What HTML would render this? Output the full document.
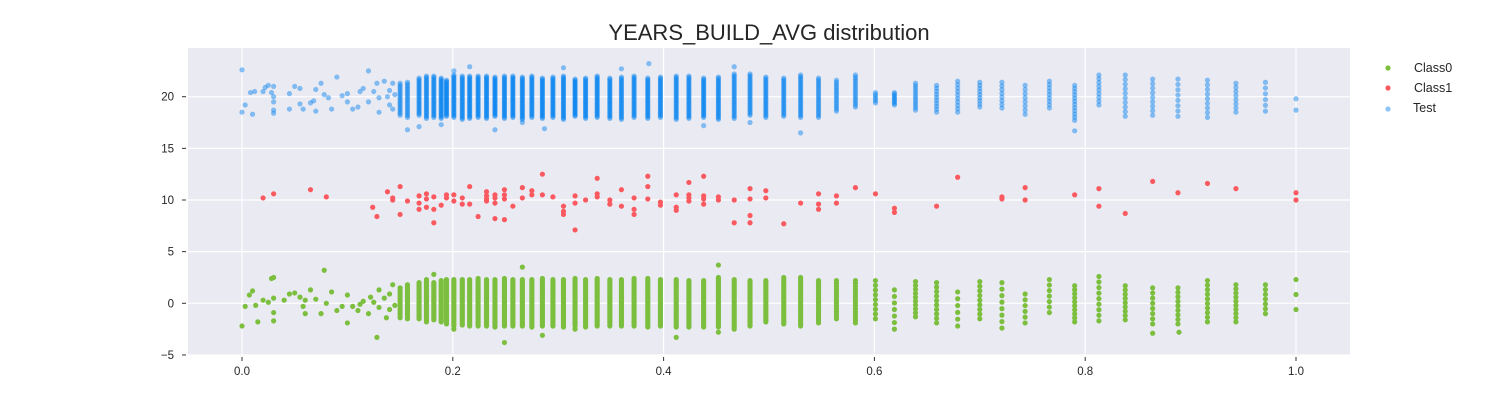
<!DOCTYPE html>
<html><head><meta charset="utf-8"><style>
body{margin:0;background:#fff;}
svg text{font-family:"Liberation Sans",sans-serif;fill:#262626;}
</style></head><body>
<svg id="chart" width="1500" height="400" xmlns="http://www.w3.org/2000/svg">
<rect x="188" y="48" width="1162" height="307" fill="#eaeaf2"/>
<g id="grid"></g><g id="ticks"></g><g id="points"></g>
<text x="769" y="40" font-size="22" text-anchor="middle">YEARS_BUILD_AVG distribution</text>
<g>
<circle cx="1388" cy="68" r="2.6" fill="#7cbf3f"/>
<text x="1414" y="72" font-size="12.5">Class0</text>
<circle cx="1388" cy="88" r="2.6" fill="#fa5a5f"/>
<text x="1414" y="92" font-size="12.5">Class1</text>
<circle cx="1388" cy="109" r="2.6" fill="#0080f0" fill-opacity="0.45"/>
<text x="1413" y="112" font-size="12.5">Test</text>
</g>
</svg>
<script>
const xTicks=[0,0.2,0.4,0.6,0.8,1.0];
const xTickLabels=["0.0","0.2","0.4","0.6","0.8","1.0"];
const yTicks=[-5,0,5,10,15,20];
const yTickLabels=["\u22125","0","5","10","15","20"];
const colX=[0.150,0.157,0.168,0.175,0.182,0.189,0.194,0.201,0.209,0.216,0.224,0.232,0.240,0.249,0.257,0.266,0.275,0.285,0.295,0.305,0.316,0.326,0.337,0.349,0.360,0.372,0.385,0.397,0.412,0.424,0.438,0.452,0.467,0.482,0.497,0.514,0.530,0.547,0.564,0.582,0.601,0.619,0.639,0.659,0.679,0.700,0.721,0.743,0.766,0.790,0.813,0.838,0.864,0.888,0.916,0.943,0.971,1.000];
const testLo=[18.2,18.0,18.2,17.9,18.0,17.9,18.1,18.0,17.8,17.9,18.0,17.9,18.1,17.9,18.0,17.8,18.0,17.9,18.0,17.8,18.1,17.9,18.0,17.9,17.8,18.0,17.9,18.0,17.8,17.9,18.0,17.8,17.9,18.2,18.0,18.1,18.0,18.0,18.6,19.0,19.4,19.2,18.7,18.5,18.5,19.0,18.9,18.3,18.9,17.7,19.2,18.1,18.2,18.1,18.0,18.5,18.6,18.7];
const testHi=[21.3,21.4,21.8,22.0,22.0,21.8,21.6,22.1,22.0,22.0,22.0,22.0,21.9,22.0,22.0,21.9,22.0,21.8,21.9,22.0,21.7,21.8,22.0,21.8,21.9,22.0,21.8,21.9,22.0,22.0,21.8,21.9,22.2,22.2,21.9,21.8,22.1,21.8,21.6,22.1,20.4,20.4,21.3,21.1,21.5,21.4,21.4,21.1,21.5,21.1,22.1,22.1,21.7,21.7,21.6,21.3,21.4,19.8];
const testN=[18,20,26,30,30,32,32,34,32,34,32,34,34,34,34,34,32,34,32,34,32,32,32,30,30,30,30,30,30,30,30,30,28,26,26,24,26,22,16,16,6,9,12,10,10,9,8,8,9,12,9,10,9,8,9,8,6,2];
const c0Lo=[-1.4,-1.5,-1.5,-1.8,-1.6,-1.8,-2.0,-2.2,-2.1,-2.2,-2.2,-2.2,-2.3,-2.2,-2.2,-2.2,-2.3,-2.2,-2.2,-2.3,-2.2,-2.3,-2.2,-2.2,-2.2,-2.2,-2.3,-2.2,-2.3,-2.3,-2.3,-2.3,-2.5,-2.2,-1.8,-2.0,-2.2,-1.9,-1.5,-1.9,-1.5,-2.5,-1.3,-1.9,-2.2,-1.5,-2.4,-1.9,-0.9,-1.8,-1.7,-1.6,-2.0,-2.0,-1.8,-1.8,-1.0,-0.6];
const c0Hi=[1.5,1.8,2.0,2.3,2.0,2.2,2.3,2.3,2.3,2.3,2.4,2.3,2.3,2.4,2.3,2.3,2.3,2.4,2.3,2.3,2.4,2.3,2.4,2.3,2.3,2.4,2.4,2.3,2.3,2.2,2.2,2.5,2.3,2.2,2.2,2.5,2.5,2.2,2.2,2.2,2.2,1.3,2.1,2.0,1.1,2.1,2.0,0.9,2.3,1.7,2.6,1.7,1.5,1.5,2.2,1.8,1.8,2.3];
const c0N=[14,18,22,26,26,28,28,30,30,30,30,30,30,30,30,30,30,30,30,30,30,30,30,30,30,30,30,30,30,30,30,30,30,28,26,26,28,22,16,16,9,7,10,10,6,9,8,6,7,10,9,9,8,9,10,10,7,3];
const testExtra=[[0.0,22.6],[0.0,18.5],[0.003,19.2],[0.01,18.3],[0.008,20.4],[0.012,20.5],[0.02,20.5],[0.022,20.9],[0.025,21.1],[0.028,20.4],[0.03,19.5],[0.03,20.0],[0.03,18.7],[0.03,18.4],[0.03,21.0],[0.045,20.3],[0.045,18.8],[0.05,21.0],[0.055,20.8],[0.055,19.3],[0.058,18.8],[0.065,19.4],[0.068,19.6],[0.07,20.7],[0.07,18.6],[0.075,21.3],[0.078,20.2],[0.082,19.9],[0.085,18.8],[0.09,21.9],[0.095,20.1],[0.1,19.5],[0.1,20.3],[0.105,18.8],[0.11,19.0],[0.112,20.5],[0.115,20.8],[0.12,22.5],[0.12,19.5],[0.125,20.5],[0.128,21.3],[0.13,19.9],[0.13,18.5],[0.135,21.5],[0.138,20.0],[0.14,19.2],[0.14,20.6],[0.143,18.8],[0.143,21.3],[0.145,20.2],[0.157,16.8],[0.168,17.1],[0.189,17.3],[0.201,22.5],[0.216,22.9],[0.24,16.8],[0.266,17.5],[0.287,16.9],[0.305,22.8],[0.36,22.7],[0.386,23.2],[0.438,17.2],[0.482,17.5],[0.53,16.5],[0.79,16.7],[0.467,22.9]];
const c0Extra=[[0.0,-2.2],[0.003,-0.3],[0.007,0.8],[0.01,1.2],[0.013,-0.2],[0.015,-1.8],[0.02,0.3],[0.025,0.1],[0.028,2.4],[0.03,-0.9],[0.03,0.5],[0.03,-1.7],[0.03,2.5],[0.04,0.3],[0.045,0.9],[0.05,1.0],[0.055,0.6],[0.058,-0.3],[0.06,0.3],[0.06,-1.0],[0.065,1.3],[0.07,0.4],[0.075,-1.0],[0.078,3.2],[0.08,0.0],[0.085,1.1],[0.09,-0.7],[0.095,-0.3],[0.1,0.8],[0.1,-1.9],[0.105,-0.3],[0.11,-0.7],[0.112,-0.1],[0.115,0.2],[0.12,-1.0],[0.122,0.6],[0.125,0.1],[0.128,-3.3],[0.13,-0.4],[0.13,1.3],[0.135,0.5],[0.137,-1.4],[0.14,0.9],[0.14,-0.6],[0.143,1.8],[0.145,-0.2],[0.182,2.8],[0.201,-2.5],[0.249,-3.8],[0.266,3.5],[0.285,-3.1],[0.316,-2.5],[0.412,-3.3],[0.452,3.7],[0.452,-2.8],[0.864,-2.9],[0.889,-2.8]];
const c1Points=[[0.02,10.2],[0.03,10.6],[0.065,11.0],[0.08,10.3],[0.124,9.3],[0.128,8.4],[0.138,10.8],[0.143,10.0],[0.143,10.2],[0.150,11.3],[0.150,8.6],[0.157,9.9],[0.168,10.4],[0.168,9.7],[0.168,9.1],[0.175,10.6],[0.175,10.1],[0.175,9.3],[0.182,10.3],[0.182,9.1],[0.182,7.8],[0.189,9.5],[0.194,10.5],[0.194,10.2],[0.201,10.5],[0.201,9.9],[0.209,10.2],[0.209,9.6],[0.216,11.3],[0.216,9.6],[0.224,8.4],[0.232,10.8],[0.232,10.4],[0.232,10.1],[0.232,9.9],[0.240,10.5],[0.240,10.2],[0.240,9.7],[0.240,8.2],[0.249,11.0],[0.249,10.5],[0.249,10.1],[0.249,8.1],[0.257,9.4],[0.266,11.2],[0.266,10.2],[0.275,10.9],[0.275,10.5],[0.285,12.5],[0.285,10.5],[0.295,10.3],[0.305,9.4],[0.305,8.9],[0.305,8.6],[0.316,10.4],[0.316,9.7],[0.316,7.1],[0.326,10.0],[0.337,12.1],[0.337,10.6],[0.337,10.3],[0.349,10.0],[0.349,9.6],[0.360,11.0],[0.360,9.4],[0.372,10.2],[0.372,9.1],[0.372,8.6],[0.385,12.3],[0.385,11.3],[0.385,10.1],[0.397,9.8],[0.397,9.5],[0.412,10.5],[0.412,9.3],[0.412,9.0],[0.424,11.7],[0.424,10.5],[0.424,10.2],[0.424,9.9],[0.438,12.3],[0.438,10.4],[0.438,10.1],[0.438,9.6],[0.452,10.3],[0.452,10.0],[0.467,10.0],[0.467,7.8],[0.482,11.1],[0.482,10.1],[0.482,8.5],[0.482,7.8],[0.497,10.9],[0.497,10.2],[0.514,7.7],[0.530,9.7],[0.547,10.6],[0.547,9.6],[0.547,9.1],[0.564,10.4],[0.564,9.7],[0.582,11.2],[0.601,10.6],[0.619,9.2],[0.619,8.8],[0.659,9.4],[0.679,12.2],[0.721,10.3],[0.721,10.1],[0.743,11.2],[0.743,10.0],[0.790,10.5],[0.813,11.1],[0.813,9.4],[0.838,8.7],[0.864,11.8],[0.888,10.7],[0.916,11.6],[0.943,11.1],[1.0,10.7],[1.0,10.0]];

const NS="http://www.w3.org/2000/svg";
function X(v){return 242+v*1054;}
function Y(v){return 303.3-v*10.33;}
const grid=document.getElementById('grid'),ticks=document.getElementById('ticks'),pts=document.getElementById('points');
function mk(tag,attrs,parent){const e=document.createElementNS(NS,tag);for(const k in attrs)e.setAttribute(k,attrs[k]);parent.appendChild(e);return e;}
xTicks.forEach((t,i)=>{
  const g=mk('line',{x1:X(t),x2:X(t),y1:48,y2:355,stroke:'#fff','stroke-width':1.2},grid);
  
  
  const tk=mk('line',{x1:X(t),x2:X(t),y1:357,y2:361,stroke:'#333','stroke-width':1},ticks);
  
  
  const tx=mk('text',{x:X(t),y:375,'font-size':11.5,'text-anchor':'middle'},ticks);
  tx.textContent=xTickLabels[i];
  
  
});
yTicks.forEach((t,i)=>{
  const g=mk('line',{x1:188,x2:1350,y1:Y(t),y2:Y(t),stroke:'#fff','stroke-width':1.2},grid);
  
  
  const tk=mk('line',{x1:182,x2:186,y1:Y(t),y2:Y(t),stroke:'#333','stroke-width':1},ticks);
  
  
  const tx=mk('text',{x:174,y:Y(t)+4,'font-size':11.5,'text-anchor':'end'},ticks);
  tx.textContent=yTickLabels[i];
  
  
});
function dot(x,y,fill,op,name){
  const c=mk('circle',{cx:X(x),cy:Y(y),r:2.6,fill:fill,'fill-opacity':op},pts);
  
  
}
function column(x,lo,hi,n,fill,op,name){
  for(let k=0;k<n;k++){const y=n>1?lo+(hi-lo)*k/(n-1):lo;dot(x,y,fill,op,name);}
}
colX.forEach((x,i)=>column(x,c0Lo[i],c0Hi[i],c0N[i],'#7cbf3f',1,'class0-point'));
c0Extra.forEach(p=>dot(p[0],p[1],'#7cbf3f',1,'class0-point'));
c1Points.forEach(p=>dot(p[0],p[1],'#fa5a5f',1,'class1-point'));
colX.forEach((x,i)=>column(x,testLo[i],testHi[i],testN[i],'#0080f0',0.45,'test-point'));
testExtra.forEach(p=>dot(p[0],p[1],'#0080f0',0.45,'test-point'));
</script>
</body></html>
